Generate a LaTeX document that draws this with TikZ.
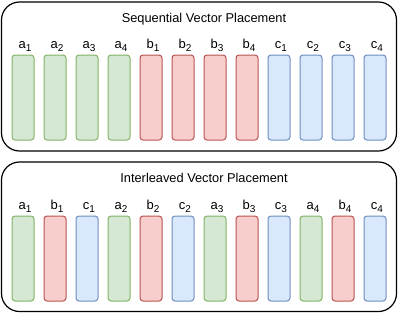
\documentclass[tikz,border=0pt]{standalone}
\usepackage{fontspec}
\setmainfont{Liberation Sans}
\newcommand{\lbl}[2]{#1\raisebox{-0.28em}{\fontsize{10}{10}\selectfont #2}}
\begin{document}
\begin{tikzpicture}[x=1pt,y=-1pt,
  frame/.style={draw=black,line width=1.2pt,rounded corners=18pt},
  vbar/.style={line width=1pt,rounded corners=3pt},
  ga/.style={vbar,fill={rgb,255:red,213;green,232;blue,212},draw={rgb,255:red,130;green,179;blue,102}},
  gb/.style={vbar,fill={rgb,255:red,248;green,206;blue,204},draw={rgb,255:red,184;green,84;blue,80}},
  gc/.style={vbar,fill={rgb,255:red,218;green,232;blue,252},draw={rgb,255:red,108;green,142;blue,191}},
  ttl/.style={font=\fontsize{12.8}{14}\selectfont,anchor=base,inner sep=0pt},
  lab/.style={font=\fontsize{13}{14}\selectfont,anchor=base,inner sep=0pt}]
\useasboundingbox (0,0) rectangle (399,314);
\draw[frame] (1.5,2) rectangle (396.5,151);
\draw[frame] (1.5,162) rectangle (396.5,311.5);
\node[ttl] (t1) at (204,22) {Sequential Vector Placement};
\node[ttl] (t2) at (204,182.3) {Interleaved Vector Placement};
% sequential
\foreach \i/\l/\n/\s in {0/a/1/ga,1/a/2/ga,2/a/3/ga,3/a/4/ga,4/b/1/gb,5/b/2/gb,6/b/3/gb,7/b/4/gb,8/c/1/gc,9/c/2/gc,10/c/3/gc,11/c/4/gc}{
  \path[\s] (12+32*\i,55) rectangle (34+32*\i,140);
  \node[lab] (s\i) at (25+32*\i,48) {\lbl{\l}{\n}};
}
% interleaved
\foreach \i/\l/\n/\s in {0/a/1/ga,1/b/1/gb,2/c/1/gc,3/a/2/ga,4/b/2/gb,5/c/2/gc,6/a/3/ga,7/b/3/gb,8/c/3/gc,9/a/4/ga,10/b/4/gb,11/c/4/gc}{
  \path[\s] (12+32*\i,216) rectangle (34+32*\i,301);
  \node[lab] (i\i) at (25+32*\i,209) {\lbl{\l}{\n}};
}
\end{tikzpicture}
\end{document}
